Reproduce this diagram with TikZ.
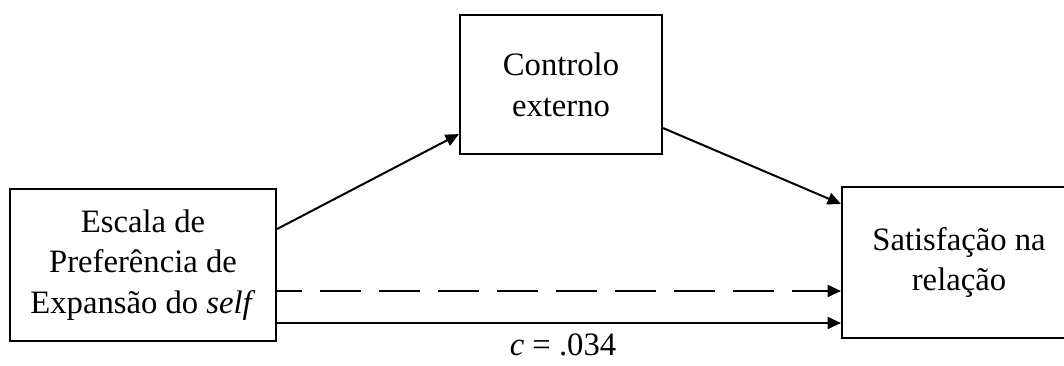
\documentclass[tikz,border=0pt]{standalone}
\usepackage{fontspec}
\setmainfont{Liberation Serif}
\usetikzlibrary{arrows.meta}
\begin{document}
\begin{tikzpicture}[x=0.75pt,y=-0.75pt,
  box/.style={draw, line width=1.6pt, align=center, inner sep=0pt,
    font=\fontsize{24.5pt}{30.5pt}\selectfont},
  conn/.style={line width=1.5pt, -{Triangle[length=10pt,width=9pt]}},
  lbl/.style={font=\fontsize{24.5pt}{30.5pt}\selectfont, inner sep=0pt}]
\useasboundingbox (0,0) rectangle (1064,365);
\clip (0,0) rectangle (1064,365);

% variables
\node[box, minimum width=266*0.75pt, minimum height=152*0.75pt] (L) at (143,265)
  {Escala de\\Preferência de\\Expansão do \textit{self}};
\node[box, minimum width=202*0.75pt, minimum height=139*0.75pt] (T) at (561,84.5)
  {Controlo\\externo};
\node[box, minimum width=234*0.75pt, minimum height=151*0.75pt] (R) at (959,262.5)
  {Satisfação na\\relação};

% indirect path through the mediator
\draw[conn] ([yshift=27pt]L.east) -- ([yshift=15.75pt]T.south west);
\draw[conn] ([yshift=20.25pt]T.south east) -- ([yshift=-13.5pt]R.north west);

% direct paths
\coordinate (d1) at ([yshift=-19.5pt]L.east);
\coordinate (d2) at ([yshift=-43.5pt]L.east);
\draw[conn, dash pattern=on 30.75pt off 13.5pt, dash phase=12pt] (d1) -- (d1 -| R.west);
\draw[conn] (d2) -- (d2 -| R.west);
\node[lbl, anchor=base] (c) at (563,355) {\textit{c} = .034};
\end{tikzpicture}
\end{document}
